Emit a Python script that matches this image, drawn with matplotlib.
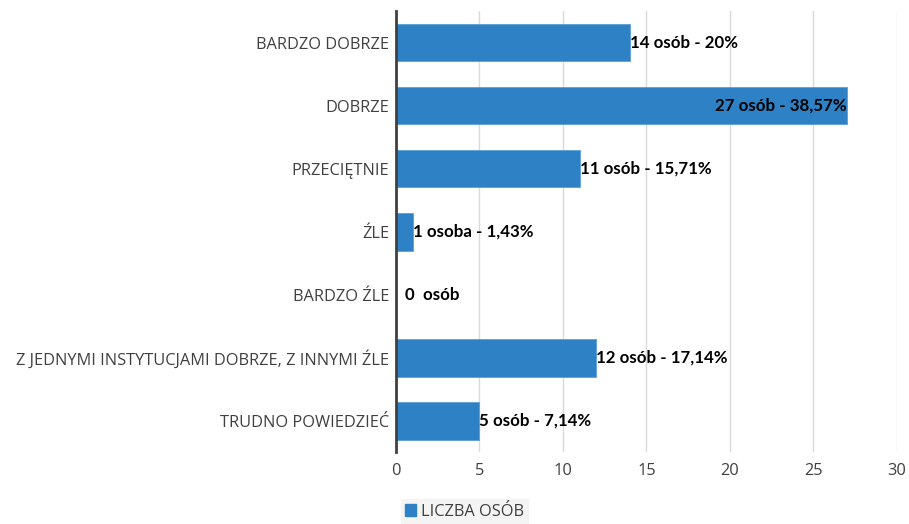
import matplotlib
matplotlib.use('Agg')
import matplotlib.pyplot as plt
from matplotlib.patches import Patch

# ---------------------------------------------------
# DATA
# ---------------------------------------------------
categories = [
    'BARDZO DOBRZE',
    'DOBRZE',
    'PRZECIĘTNIE',
    'ŹLE',
    'BARDZO ŹLE',
    'Z JEDNYMI INSTYTUCJAMI DOBRZE, Z INNYMI ŹLE',
    'TRUDNO POWIEDZIEĆ',
]
counts = [14, 27, 11, 1, 0, 12, 5]
value_labels = [
    '14 osób - 20%',
    '27 osób - 38,57%',
    '11 osób - 15,71%',
    '1 osoba - 1,43%',
    '0  osób',
    '12 osób - 17,14%',
    '5 osób - 7,14%',
]
series_name = 'LICZBA OSÓB'
x_ticks = [0, 5, 10, 15, 20, 25, 30]

bar_color = '#2F81C5'

# ---------------------------------------------------
# FIGURE
# ---------------------------------------------------
fig = plt.figure(figsize=(9.09, 5.24), dpi=100)
ax = fig.add_axes([0.4356, 0.137, 0.5512, 0.842])

ypos = list(range(len(categories)))
ax.barh(ypos, counts, height=0.6, color=bar_color,
        edgecolor='#5A9FD8', linewidth=0.6, zorder=3)

for y, v, lab in zip(ypos, counts, value_labels):
    if v == 0:
        x, ha = 0.55, 'left'
    elif v > 22:
        # longest bar: label sits inside the bar end
        x, ha = v, 'right'
    else:
        x, ha = v, 'left'
    ax.text(x, y, lab, va='center', ha=ha, fontsize=12.2,
            fontweight='bold', family='Lato', color='black', zorder=4)

ax.set_ylim(len(categories) - 0.5, -0.5)
ax.set_xlim(0, 30)
ax.set_yticks(ypos)
ax.set_yticklabels(categories, family='Open Sans', fontsize=11.8,
                   color='#404040')
ax.set_xticks(x_ticks)
ax.set_xticklabels([str(t) for t in x_ticks], family='Open Sans',
                   fontsize=11.8, color='#404040')

ax.tick_params(axis='y', length=0, pad=5)
ax.tick_params(axis='x', length=0, pad=8)

ax.grid(axis='x', color='#D9D9D9', linewidth=1, zorder=0)
for side in ['top', 'right', 'bottom']:
    ax.spines[side].set_visible(False)
ax.spines['left'].set_color('#404040')
ax.spines['left'].set_linewidth(2)
ax.spines['left'].set_zorder(5)

# ---------------------------------------------------
# LEGEND
# ---------------------------------------------------
leg = fig.legend(handles=[Patch(color=bar_color, label=series_name)],
                 loc='lower left', bbox_to_anchor=(0.432, -0.015),
                 frameon=True, fancybox=False, handlelength=0.7,
                 handleheight=0.7, handletextpad=0.3, borderpad=0.25,
                 prop={'family': 'Open Sans', 'size': 11.8})
leg.get_frame().set_facecolor('#F2F2F2')
leg.get_frame().set_edgecolor('#F2F2F2')
for t in leg.get_texts():
    t.set_color('#404040')

fig.savefig('out.png', dpi=100)
